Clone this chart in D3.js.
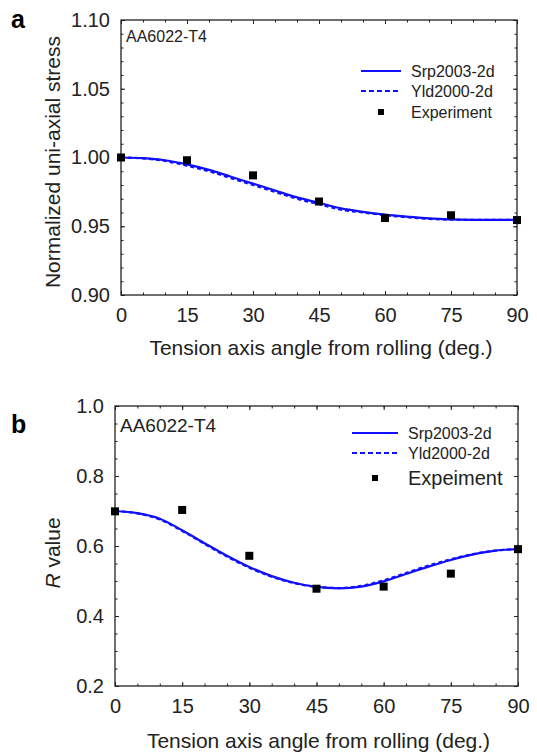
<!DOCTYPE html>
<html>
<head>
<meta charset="utf-8">
<script src="https://cdn.jsdelivr.net/npm/d3@7"></script>
<style>
  body { margin: 0; background: #fff; }
  svg { display: block; font-family: "Liberation Sans", Arial, sans-serif; }
</style>
</head>
<body>
<svg id="chart" width="537" height="755"></svg>
<script>
// model curves sampled every 5 degrees
const angles = [0, 5, 10, 15, 20, 25, 30, 35, 40, 45, 50, 55, 60, 65, 70, 75, 80, 85, 90];
const stressSrp = [1.000, 0.9995, 0.998, 0.995, 0.991, 0.986, 0.981, 0.976, 0.971, 0.967, 0.963, 0.9605, 0.9585, 0.957, 0.9557, 0.955, 0.9547, 0.9546, 0.9546];
const stressYld = [1.000, 0.9993, 0.9975, 0.994, 0.990, 0.985, 0.980, 0.975, 0.970, 0.966, 0.962, 0.960, 0.958, 0.9565, 0.9553, 0.9548, 0.9546, 0.9546, 0.9546];
const rSrp = [0.700, 0.694, 0.678, 0.645, 0.608, 0.572, 0.540, 0.514, 0.495, 0.483, 0.479, 0.484, 0.499, 0.520, 0.541, 0.560, 0.576, 0.587, 0.591];
const rYld = [0.700, 0.693, 0.676, 0.643, 0.606, 0.570, 0.538, 0.512, 0.494, 0.483, 0.480, 0.486, 0.502, 0.523, 0.544, 0.562, 0.577, 0.587, 0.591];

// experiments
const expAngles = [0, 15, 30, 45, 60, 75, 90];
const stressExp = [1.000, 0.998, 0.987, 0.968, 0.956, 0.958, 0.9545];
const rExp = [0.699, 0.703, 0.572, 0.478, 0.484, 0.521, 0.591];

const xTicks = [0, 15, 30, 45, 60, 75, 90];
const stressTicks = [0.90, 0.95, 1.00, 1.05, 1.10];
const rTicks = [0.2, 0.4, 0.6, 0.8, 1.0];

const blue = "#1010ff";
const svg = d3.select("#chart");

function panel(o) {
  const g = svg.append("g");
  const x = d3.scaleLinear().domain([0, 90]).range([o.left, o.right]);
  const y = d3.scaleLinear().domain(o.yDomain).range([o.bottom, o.top]);

  const xMinor = d3.range(0, 90.01, 5);
  const yMinor = d3.range(o.yDomain[0], o.yDomain[1] + 1e-9, o.yMinorStep);

  // major + minor ticks on all four sides, pointing inward
  const sides = [
    [d3.axisBottom, x, o.bottom, 0, true],
    [d3.axisTop, x, o.top, 0, false],
    [d3.axisLeft, y, 0, o.left, true],
    [d3.axisRight, y, 0, o.right, false]
  ];
  sides.forEach(([axisFn, sc, ty, tx, labels]) => {
    const isX = sc === x;
    const major = axisFn(sc)
      .tickValues(isX ? xTicks : o.yTicks)
      .tickSizeInner(-4).tickSizeOuter(0)
      .tickPadding(labels ? (isX ? 13 : 11) : 0)
      .tickFormat(labels ? (isX ? d3.format("d") : d3.format(o.yFmt)) : "");
    const minor = axisFn(sc)
      .tickValues(isX ? xMinor : yMinor)
      .tickSizeInner(-2.5).tickSizeOuter(0).tickFormat("");
    [minor, major].forEach(ax => {
      const a = g.append("g").attr("transform", `translate(${tx},${ty})`).call(ax);
      a.select(".domain").remove();
      a.selectAll("line").attr("stroke", "#222").attr("stroke-width", 1);
      a.selectAll("text").attr("fill", "#222").attr("font-size", 20)
        .attr("font-family", "Liberation Sans, Arial, sans-serif");
    });
  });

  g.append("rect")
    .attr("x", o.left).attr("y", o.top)
    .attr("width", o.right - o.left).attr("height", o.bottom - o.top)
    .attr("fill", "none").attr("stroke", "#222").attr("stroke-width", 1.3);

  const line = d3.line().x((d, i) => x(angles[i])).y(d => y(d)).curve(d3.curveMonotoneX);
  g.append("path").attr("d", line(o.srp))
    .attr("fill", "none").attr("stroke", blue).attr("stroke-width", 2.2);
  g.append("path").attr("d", line(o.yld))
    .attr("fill", "none").attr("stroke", blue).attr("stroke-width", 2.2)
    .attr("stroke-dasharray", "4,3");

  g.selectAll(".pt").data(o.exp).enter().append("rect")
    .attr("x", (d, i) => x(expAngles[i]) - 4)
    .attr("y", d => y(d) - 4)
    .attr("width", 8).attr("height", 8).attr("fill", "#000");

  // titles
  g.append("text").attr("x", (o.left + o.right) / 2 + 2).attr("y", o.xTitleY)
    .attr("text-anchor", "middle").attr("font-size", 21).attr("fill", "#222")
    .text("Tension axis angle from rolling (deg.)");
  const yt = g.append("text")
    .attr("transform", `translate(${o.yTitleX},${o.yTitleY}) rotate(-90)`)
    .attr("text-anchor", "middle").attr("font-size", 21).attr("fill", "#222");
  if (o.italicR) {
    yt.append("tspan").attr("font-style", "italic").text("R");
    yt.append("tspan").text(" value");
  } else {
    yt.text(o.yTitle);
  }

  g.append("text").attr("x", o.tagX).attr("y", o.tagY)
    .attr("font-size", 25).attr("font-weight", "bold").attr("fill", "#000").text(o.tag);
  g.append("text").attr("x", o.left + 5).attr("y", o.matY)
    .attr("font-size", o.matSize).attr("fill", "#222").text("AA6022-T4");

  // legend
  const L = o.legend;
  g.append("line").attr("x1", L.x0).attr("x2", L.x1).attr("y1", L.y[0]).attr("y2", L.y[0])
    .attr("stroke", blue).attr("stroke-width", 2);
  g.append("line").attr("x1", L.x0).attr("x2", L.x1).attr("y1", L.y[1]).attr("y2", L.y[1])
    .attr("stroke", blue).attr("stroke-width", 2).attr("stroke-dasharray", "5,3");
  g.append("rect").attr("x", (L.x0 + L.x1) / 2 - 3).attr("y", L.y[2] - 3)
    .attr("width", 6).attr("height", 6).attr("fill", "#000");
  L.labels.forEach((t, i) => {
    g.append("text").attr("x", L.tx).attr("y", L.y[i]).attr("dy", "0.35em")
      .attr("font-size", L.sizes[i]).attr("fill", "#222").text(t);
  });
}

panel({
  left: 121, right: 517, top: 20, bottom: 295,
  yDomain: [0.90, 1.10], yTicks: stressTicks, yMinorStep: 0.01, yFmt: ".2f",
  srp: stressSrp, yld: stressYld, exp: stressExp,
  xTitleY: 355, yTitleX: 60, yTitleY: 162,
  yTitle: "Normalized uni-axial stress",
  tag: "a", tagX: 11, tagY: 28,
  matY: 42, matSize: 16,
  legend: { x0: 361, x1: 401, tx: 411, y: [71, 91, 112],
            labels: ["Srp2003-2d", "Yld2000-2d", "Experiment"], sizes: [16, 16, 16] }
});

panel({
  left: 115, right: 518, top: 406, bottom: 686,
  yDomain: [0.2, 1.0], yTicks: rTicks, yMinorStep: 0.05, yFmt: ".1f",
  srp: rSrp, yld: rYld, exp: rExp,
  xTitleY: 748, yTitleX: 60, yTitleY: 553, italicR: true,
  tag: "b", tagX: 11, tagY: 433,
  matY: 432, matSize: 19,
  legend: { x0: 352, x1: 398, tx: 408, y: [433, 453, 478],
            labels: ["Srp2003-2d", "Yld2000-2d", "Expeiment"], sizes: [16, 16, 20] }
});
</script>
</body>
</html>
